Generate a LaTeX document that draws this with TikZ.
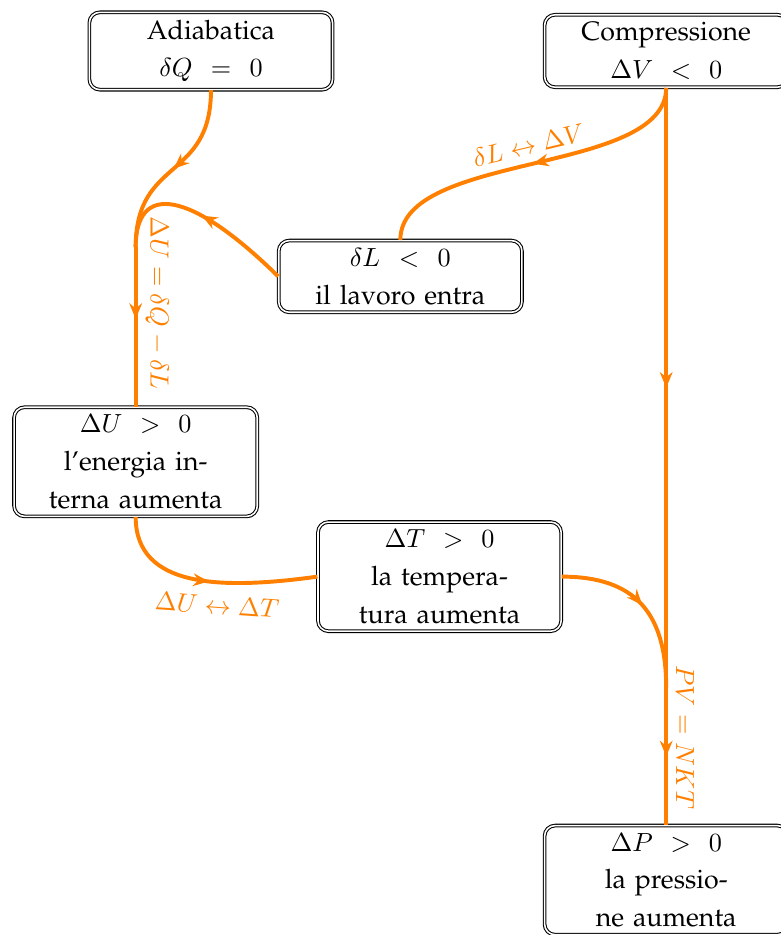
\documentclass[tikz,border=0pt]{standalone}
\usepackage[T1]{fontenc}
\usepackage{palatino}
\usetikzlibrary{arrows.meta,positioning,decorations.markings}

\begin{document}
\begin{tikzpicture}[
  stage/.style={draw=black,double,rounded corners=4pt,fill=white,
    text width=27mm,align=center,inner xsep=8pt,inner ysep=2.9pt,
    font=\fontsize{10.2}{14.4}\selectfont},
  flow/.style={color=orange,line width=1.5pt,postaction=decorate,
    decoration={markings,mark=at position #1 with
      {\arrow{Stealth[length=2.1mm,width=1.7mm]}}}},
  flow/.default=.5,
  eqlabel/.style={text=orange,inner sep=3pt}
]
\useasboundingbox (-28.3mm,6.84mm) rectangle (76.46mm,-118.58mm);
\node[stage] (adiab) {Adiabatica\\$\delta Q\,=\,0$};
\node[stage,right=28.3mm of adiab] (compr) {Compressione\\$\Delta V\,<\,0$};
\node[stage,below=20.1mm of adiab,xshift=25.4mm] (dL) {$\delta L\,<\,0$\\il lavoro entra};
\node[stage,below=12.6mm of dL,xshift=-35.5mm] (dU) {$\Delta U\,>\,0$\\l'energia in-\\terna aumenta};
\node[stage,right=8mm of dU,yshift=-15.4mm] (dT) {$\Delta T\,>\,0$\\la tempera-\\tura aumenta};
\node[stage,below=98.9mm of compr] (dP) {$\Delta P\,>\,0$\\la pressio-\\ne aumenta};
\coordinate[above=21.4mm of dU.north] (jU);
\coordinate[above=18.4mm of dP.north] (jP);
\draw[flow] (adiab.south) .. controls +(0,-12.2mm) and +(0,12.1mm) .. (jU);
\draw[flow] (dL.west) .. controls +(-11.9mm,11.7mm) and +(0,8.7mm) .. (jU);
\draw[flow=.45] (jU) -- node[eqlabel,rotate=-90,anchor=south,pos=.35]
  {$\Delta U = \delta Q - \delta L$} (dU.north);
\draw[flow] (compr.south) .. controls +(0,-11.8mm) and +(0,11.9mm) ..
  node[eqlabel,sloped,above] {$\delta L \leftrightarrow \Delta V$} (dL.north);
\draw[flow] (dU.south) .. controls +(0,-9.5mm) and +(-13mm,-1.8mm) ..
  node[eqlabel,rotate=-4,below=1.5pt,pos=.63] {$\Delta U \leftrightarrow \Delta T$} (dT.west);
\draw[flow] (compr.south) -- (jP);
\draw[flow] (dT.east) .. controls +(9.9mm,0) and +(0,10mm) .. (jP);
\draw[flow] (jP) -- node[eqlabel,rotate=-90,anchor=south,pos=.36]
  {$PV = NKT$} (dP.north);
\end{tikzpicture}
\end{document}
